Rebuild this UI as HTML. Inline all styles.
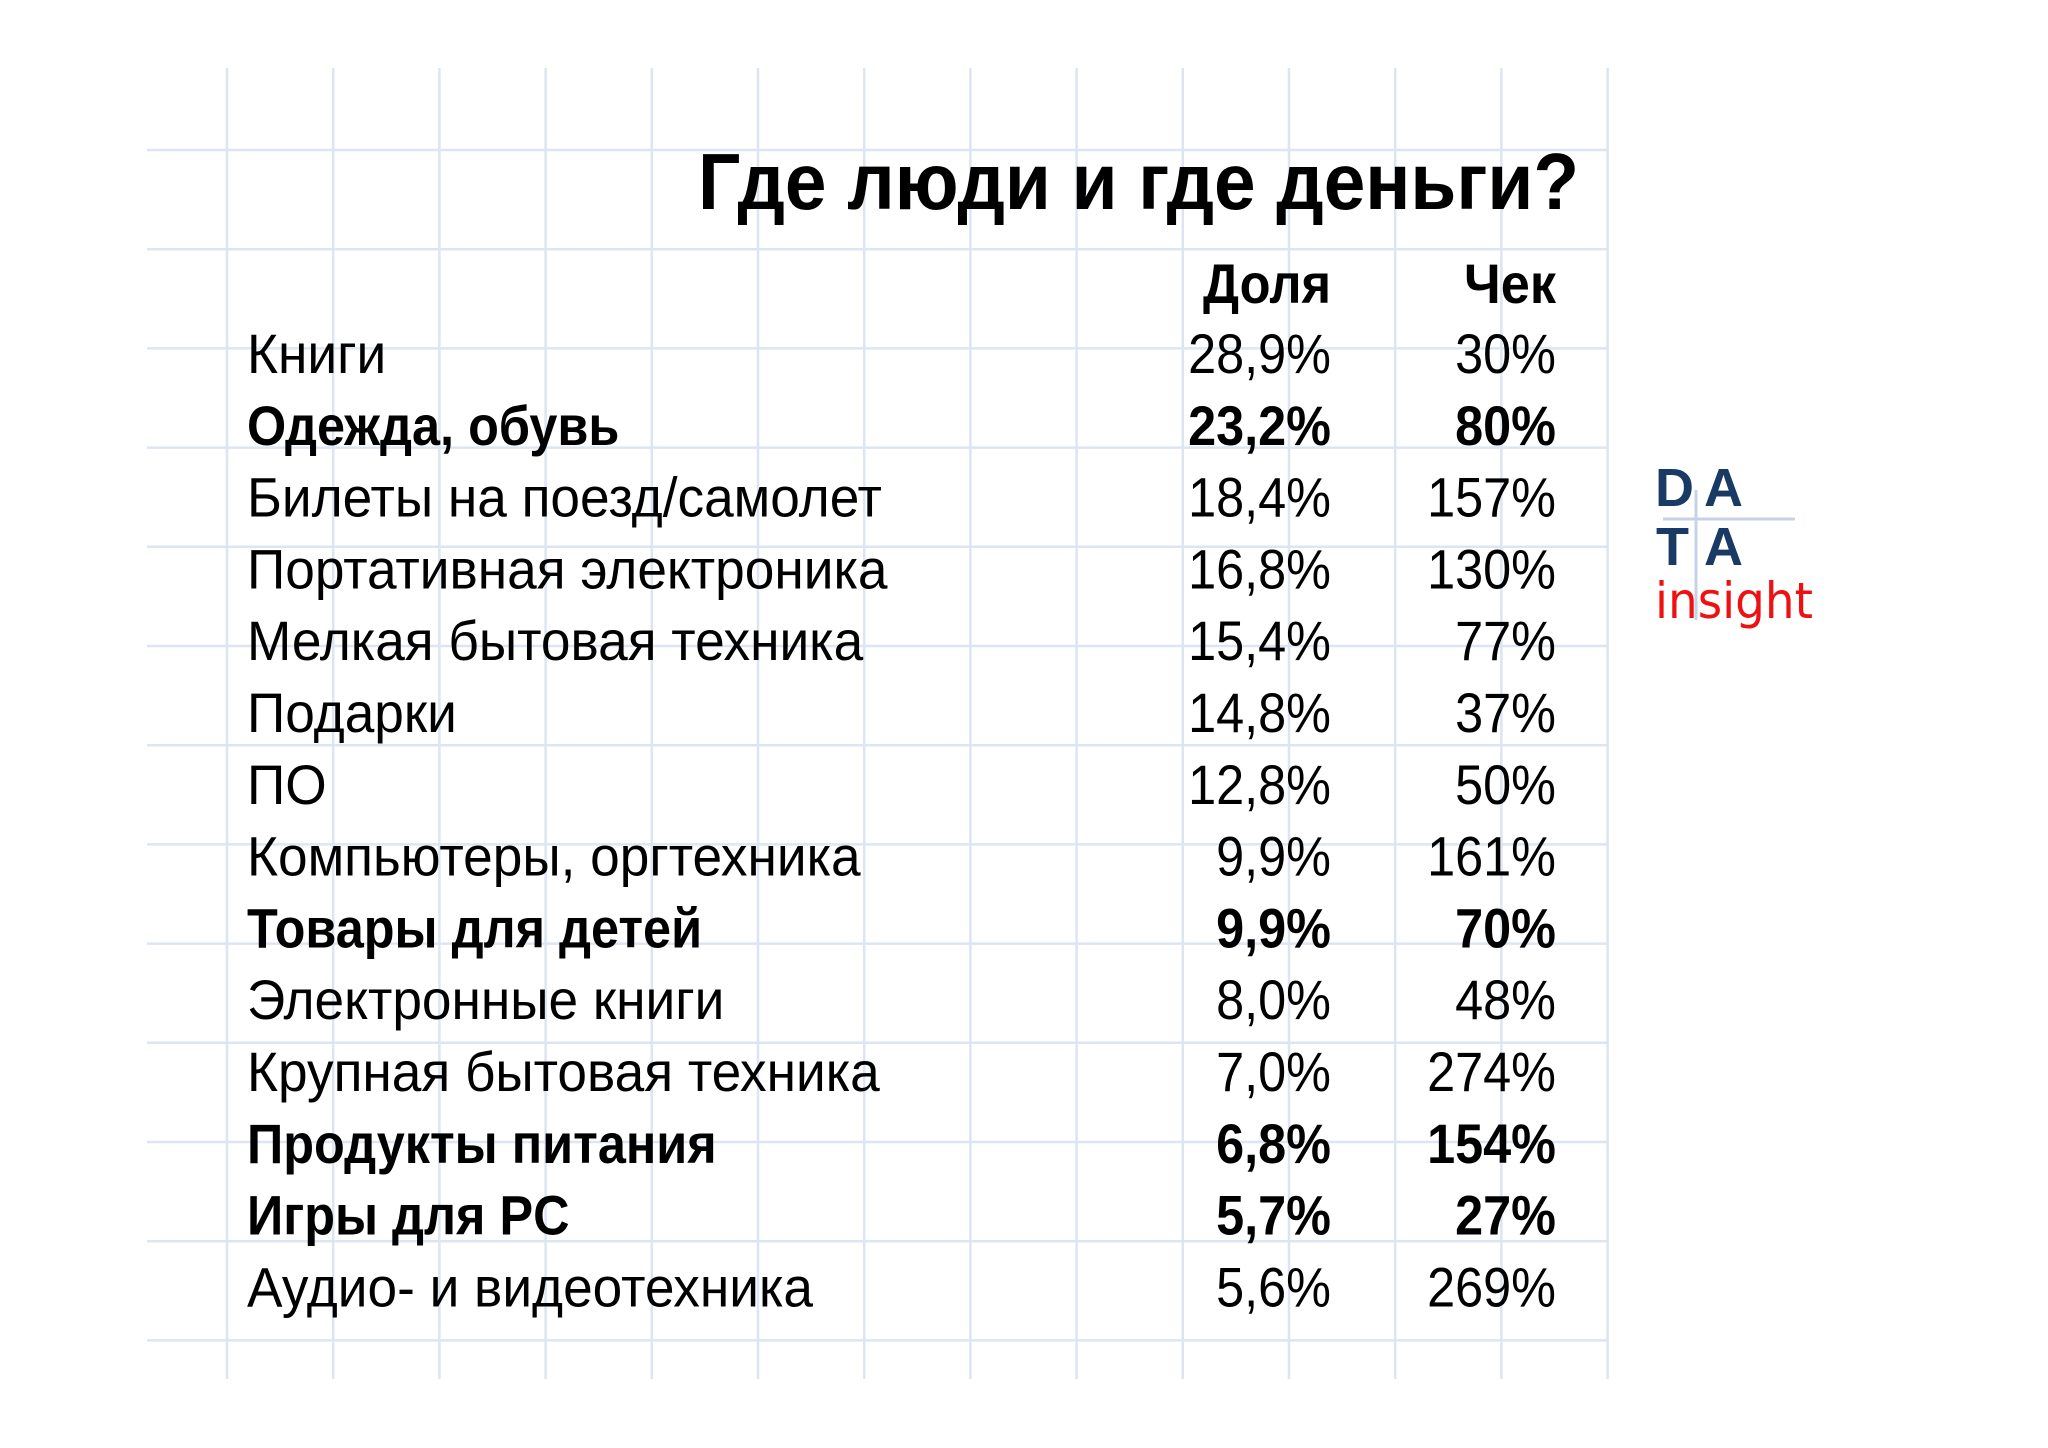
<!DOCTYPE html>
<html><head><meta charset="utf-8"><style>
html,body{margin:0;padding:0;background:#fff;}
svg{display:block;}
text{font-family:"Liberation Sans",sans-serif;fill:#000;}
</style></head><body>
<svg id="s" width="2048" height="1448" viewBox="0 0 2048 1448">
<g id="grid"></g>
<text x="1579" y="209" text-anchor="end" font-size="80" font-weight="bold" textLength="881" lengthAdjust="spacingAndGlyphs">Где люди и где деньги?</text>
<text x="1331" y="303" text-anchor="end" font-size="56" font-weight="bold" textLength="128" lengthAdjust="spacingAndGlyphs">Доля</text>
<text x="1556" y="303" text-anchor="end" font-size="56" font-weight="bold" textLength="92" lengthAdjust="spacingAndGlyphs">Чек</text>
<g id="rows"></g>
<g>
<line x1="1663" y1="519" x2="1795" y2="519" stroke="#c5d3ea" stroke-width="3"/>
<line x1="1696" y1="490" x2="1696" y2="620" stroke="#c5d3ea" stroke-width="3"/>
<text x="1655" y="506" font-size="54" font-weight="bold" style="fill:#1a3a66">D</text>
<text x="1704" y="506" font-size="54" font-weight="bold" style="fill:#1a3a66">A</text>
<text x="1656" y="565" font-size="54" font-weight="bold" style="fill:#1a3a66">T</text>
<text x="1704" y="565" font-size="54" font-weight="bold" style="fill:#1a3a66">A</text>
<text x="1655" y="618" font-size="50" textLength="158" lengthAdjust="spacingAndGlyphs" style="fill:#ee1111;font-family:'DejaVu Sans',sans-serif">insight</text>
</g>
</svg>
<script>
const categories=["Книги","Одежда, обувь","Билеты на поезд/самолет","Портативная электроника","Мелкая бытовая техника","Подарки","ПО","Компьютеры, оргтехника","Товары для детей","Электронные книги","Крупная бытовая техника","Продукты питания","Игры для PC","Аудио- и видеотехника"];
const shareValues=["28,9%","23,2%","18,4%","16,8%","15,4%","14,8%","12,8%","9,9%","9,9%","8,0%","7,0%","6,8%","5,7%","5,6%"];
const checkValues=["30%","80%","157%","130%","77%","37%","50%","161%","70%","48%","274%","154%","27%","269%"];
const boldRows=[false,true,false,false,false,false,false,false,true,false,false,true,true,false];
const NS="http://www.w3.org/2000/svg";
const grid=document.getElementById('grid');
for(let i=0;i<14;i++){const x=227+i*106.2;const l=document.createElementNS(NS,'line');
l.setAttribute('x1',x);l.setAttribute('x2',x);l.setAttribute('y1',68);l.setAttribute('y2',1379);
l.setAttribute('stroke','#dde5f3');l.setAttribute('stroke-width','2.5');


grid.appendChild(l);}
for(let i=0;i<13;i++){const y=150+i*99.2;const l=document.createElementNS(NS,'line');
l.setAttribute('x1',147);l.setAttribute('x2',1608);l.setAttribute('y1',y);l.setAttribute('y2',y);
l.setAttribute('stroke','#dde5f3');l.setAttribute('stroke-width','2.5');


grid.appendChild(l);}
const rows=document.getElementById('rows');
function rowY(i){return 373+i*71.8;}
function mk(txt,x,y,anchor,bold,name){const t=document.createElementNS(NS,'text');
t.textContent=txt;t.setAttribute('x',x);t.setAttribute('y',y);t.setAttribute('font-size','56');
t.setAttribute('text-anchor',anchor);if(bold)t.setAttribute('font-weight','bold');


rows.appendChild(t);return t;}
categories.forEach((c,i)=>{const y=rowY(i);
const a=mk(c,247,y,'start',boldRows[i],'row-label');
const w=a.getComputedTextLength();a.setAttribute('textLength',w*(boldRows[i]?0.9:0.95));a.setAttribute('lengthAdjust','spacingAndGlyphs');
const b=mk(shareValues[i],1331,y,'end',boldRows[i],'share-value');
const wb=b.getComputedTextLength();b.setAttribute('textLength',wb*0.9);b.setAttribute('lengthAdjust','spacingAndGlyphs');
const d=mk(checkValues[i],1556,y,'end',boldRows[i],'check-value');
const wd=d.getComputedTextLength();d.setAttribute('textLength',wd*0.9);d.setAttribute('lengthAdjust','spacingAndGlyphs');
});
</script>
</body></html>
